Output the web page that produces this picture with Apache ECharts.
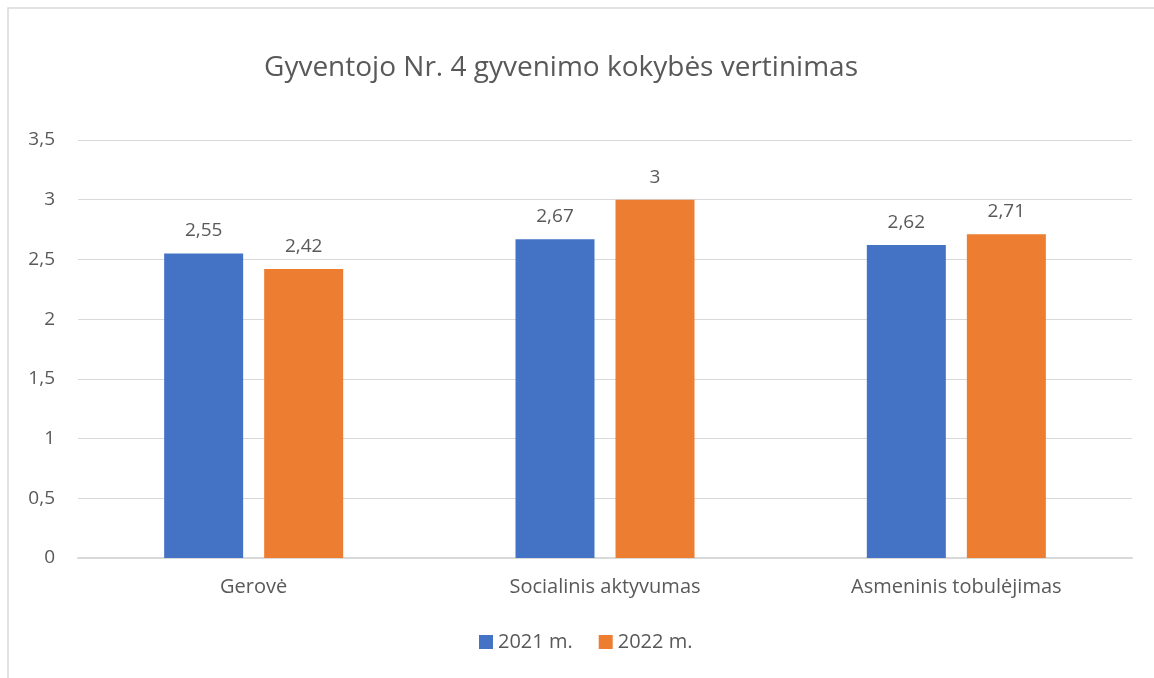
<!DOCTYPE html>
<html>
<head>
<meta charset="utf-8">
<script src="https://cdn.jsdelivr.net/npm/echarts@6/dist/echarts.min.js"></script>
<style>
  html, body { margin: 0; padding: 0; background: #fff; }
  #chart { width: 1154px; height: 678px; }
</style>
</head>
<body>
<div id="chart"></div>
<script>
var categories = ['Gerovė', 'Socialinis aktyvumas', 'Asmeninis tobulėjimas'];
var seriesNames = ['2021 m.', '2022 m.'];
var values2021 = [2.55, 2.67, 2.62];
var values2022 = [2.42, 3, 2.71];
var yTicks = [0, 0.5, 1, 1.5, 2, 2.5, 3, 3.5];

var textColor = '#595959';
var fontFam = '"Open Sans", "Noto Sans", sans-serif';

function fmt(v) {
    return String(v).replace('.', ',');
}

var myChart = echarts.init(document.getElementById('chart'));

var option = {
    animation: false,
    color: ['#4472c4', '#ed7d31'],
    textStyle: { fontFamily: fontFam },
    graphic: [{
        type: 'rect',
        shape: { x: 8, y: 8, width: 1160, height: 700 },
        style: { fill: 'none', stroke: '#d9d9d9', lineWidth: 1.5 },
        silent: true
    }],
    title: {
        text: 'Gyventojo Nr. 4 gyvenimo kokybės vertinimas',
        left: 556,
        top: 49,
        textAlign: 'center',
        textStyle: { color: textColor, fontSize: 28, fontWeight: 'normal', fontFamily: fontFam }
    },
    legend: {
        data: seriesNames,
        bottom: 21,
        left: 474,
        itemWidth: 14,
        itemHeight: 14,
        itemGap: 26,
        icon: 'rect',
        textStyle: { color: textColor, fontSize: 20, fontFamily: fontFam }
    },
    grid: { left: 78, right: 22, top: 140, bottom: 120 },
    xAxis: {
        type: 'category',
        data: categories,
        axisTick: { show: false },
        axisLine: { lineStyle: { color: '#d9d9d9', width: 2 } },
        axisLabel: { color: textColor, fontSize: 20, margin: 19, fontFamily: fontFam }
    },
    yAxis: {
        type: 'value',
        min: yTicks[0],
        max: yTicks[yTicks.length - 1],
        interval: 0.5,
        axisLine: { show: false },
        axisTick: { show: false },
        splitLine: { lineStyle: { color: '#d9d9d9', width: 1 } },
        axisLabel: {
            color: textColor, fontSize: 19, margin: 23, fontFamily: fontFam,
            formatter: function (v) { return fmt(v); }
        }
    },
    series: [{
        name: seriesNames[0],
        type: 'bar',
        data: values2021,
        barWidth: 79,
        barGap: '26.6%',
        label: {
            show: true, position: 'top', distance: 13,
            color: textColor, fontSize: 19, fontFamily: fontFam,
            formatter: function (p) { return fmt(p.value); }
        }
    }, {
        name: seriesNames[1],
        type: 'bar',
        data: values2022,
        barWidth: 79,
        barGap: '26.6%',
        label: {
            show: true, position: 'top', distance: 13,
            color: textColor, fontSize: 19, fontFamily: fontFam,
            formatter: function (p) { return fmt(p.value); }
        }
    }]
};

myChart.setOption(option);
</script>
</body>
</html>
